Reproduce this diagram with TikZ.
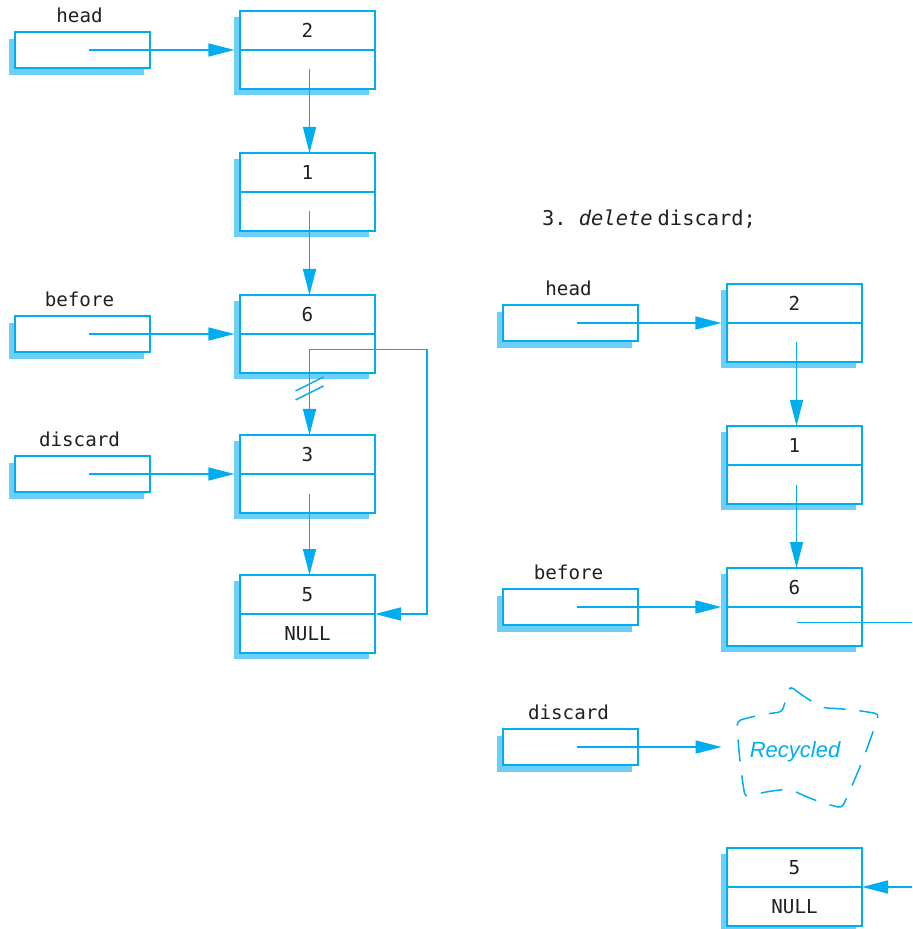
\documentclass[tikz,border=0pt]{standalone}
\usepackage{fontspec}
\setmainfont{Liberation Sans}
\setmonofont{DejaVu Sans Mono}
\usetikzlibrary{arrows.meta, positioning, shadows}
\definecolor{linkblue}{HTML}{00AEEF}
\definecolor{shadeblue}{HTML}{6DCFF6}
\definecolor{inkgray}{HTML}{231F20}
\tikzset{
  cell/.style={
    rectangle,
    draw=linkblue,
    fill=white,
    line width=0.75pt,
    minimum width=67.5pt,
    minimum height=19.5pt,
    inner sep=0pt,
    outer sep=0pt,
    text=inkgray,
    font=\ttfamily\fontsize{9.6}{11}\selectfont,
    drop shadow={shadow xshift=-2.8pt, shadow yshift=-3pt, fill=shadeblue, opacity=1}
  },
  ptr/.style={
    rectangle,
    draw=linkblue,
    fill=white,
    line width=0.75pt,
    minimum width=67.5pt,
    minimum height=18pt,
    inner sep=0pt,
    outer sep=0pt,
    drop shadow={shadow xshift=-2.8pt, shadow yshift=-3.5pt, fill=shadeblue, opacity=1}
  },
  ptrlabel/.style={
    text=inkgray,
    inner sep=1pt,
    font=\ttfamily\fontsize{9.6}{11}\selectfont
  },
  link/.style={-{Triangle[length=13pt, width=6.5pt]}, draw=linkblue, line width=0.75pt},
  wire/.style={draw=linkblue, line width=0.75pt},
  cloudline/.style={draw=linkblue, line width=0.75pt, dash pattern=on 11pt off 7pt, rounded corners=2pt}
}
\begin{document}
\begin{tikzpicture}[x=0.5pt, y=-0.5pt]
  \useasboundingbox (0,0) rectangle (912,929);
  \coordinate (edge) at (912,0);

  % left list
  \node[cell] (n2) at (307.5,30.5) {2};
  \node[cell, below=0pt of n2] (n2b) {};
  \node[cell, below=32pt of n2b] (n1) {1};
  \node[cell, below=0pt of n1] (n1b) {};
  \node[cell, below=32pt of n1b] (n6) {6};
  \node[cell, below=0pt of n6] (n6b) {};
  \node[cell, below=31pt of n6b] (n3) {3};
  \node[cell, below=0pt of n3] (n3b) {};
  \node[cell, below=31pt of n3b] (n5) {5};
  \node[cell, below=0pt of n5] (n5b) {NULL};

  \node[ptr, left=45pt of n2.south west] (headp) {};
  \node[ptr, left=45pt of n6.south west] (beforep) {};
  \node[ptr, left=45pt of n3.south west] (discardp) {};
  \node[ptrlabel, above=3.5pt of headp, xshift=-1.5pt] {head};
  \node[ptrlabel, above=3.5pt of beforep, xshift=-1.5pt] {before};
  \node[ptrlabel, above=3.5pt of discardp, xshift=-1.5pt] {discard};

  \draw[link] ([xshift=3pt]headp.center) -- ([xshift=-2.8pt]n2.south west);
  \draw[link] ([xshift=3pt]beforep.center) -- ([xshift=-2.8pt]n6.south west);
  \draw[link] ([xshift=3pt]discardp.center) -- ([xshift=-2.8pt]n3.south west);
  \draw[link] ([xshift=1pt]n2b.center) -- ([xshift=1pt]n2b.center |- n1.north);
  \draw[link] ([xshift=1pt]n1b.center) -- ([xshift=1pt]n1b.center |- n6.north);
  \draw[link] ([shift={(1pt,2pt)}]n6b.center) -- coordinate[pos=0.45] (brk) ([xshift=1pt]n6b.center |- n3.north);
  \draw[link] ([xshift=1pt]n3b.center) -- ([xshift=1pt]n3b.center |- n5.north);
  \draw[link] ([shift={(1pt,2pt)}]n6b.center) -- ++(117.5,0) |- (n5.south east);
  % broken link
  \draw[wire] ([shift={(-14,3)}]brk) -- ++(28,-14);
  \draw[wire] ([shift={(-14,12)}]brk) -- ++(28,-14);

  % right list
  \node[font=\ttfamily\fontsize{10.2}{12}\selectfont, text=inkgray] (step3) at (649,219) {3.~\textit{delete}\hspace{0.25em}discard;};

  \node[cell] (r2) at (794.5,303.5) {2};
  \node[cell, below=0pt of r2] (r2b) {};
  \node[cell, below=32pt of r2b] (r1) {1};
  \node[cell, below=0pt of r1] (r1b) {};
  \node[cell, below=32pt of r1b] (r6) {6};
  \node[cell, below=0pt of r6] (r6b) {};
  \node[cell, below=101pt of r6b] (r5) {5};
  \node[cell, below=0pt of r5] (r5b) {NULL};

  \node[ptr, left=44.5pt of r2.south west] (rheadp) {};
  \node[ptr, left=44.5pt of r6.south west] (rbeforep) {};
  \node[ptr] (rdiscardp) at (rbeforep |- 0,747) {};
  \node[ptrlabel, above=3.5pt of rheadp, xshift=-1pt] {head};
  \node[ptrlabel, above=3.5pt of rbeforep, xshift=-1pt] {before};
  \node[ptrlabel, above=3.5pt of rdiscardp, xshift=-1pt] {discard};

  \node[text=linkblue, font=\itshape\fontsize{11}{12}\selectfont, minimum width=73pt, inner sep=0pt] (recyc) at (795,752) {Recycled};
  \draw[cloudline] (790,686) to[bend right=5] (824,708) to[bend left=4] (879,714)
    to[bend left=3] (842,808) to[bend left=6] (790,789) to[bend right=5] (745,797)
    to[bend left=3] (737,721) to[bend left=5] (782,712) -- cycle;

  \draw[link] ([xshift=3pt]rheadp.center) -- ([xshift=-2.8pt]r2.south west);
  \draw[link] ([xshift=3pt]rbeforep.center) -- ([xshift=-2.8pt]r6.south west);
  \draw[link] ([xshift=3pt]rdiscardp.center) -- (rdiscardp.center -| recyc.west);
  \draw[link] ([xshift=1pt]r2b.center) -- ([xshift=1pt]r2b.center |- r1.north);
  \draw[link] ([xshift=1pt]r1b.center) -- ([xshift=1pt]r1b.center |- r6.north);
  \draw[wire] ([shift={(1pt,2pt)}]r6b.center) -- ([yshift=2pt]r6b.center -| edge);
  \draw[link] (r5.south east -| edge) -- (r5.south east);
\end{tikzpicture}
\end{document}
